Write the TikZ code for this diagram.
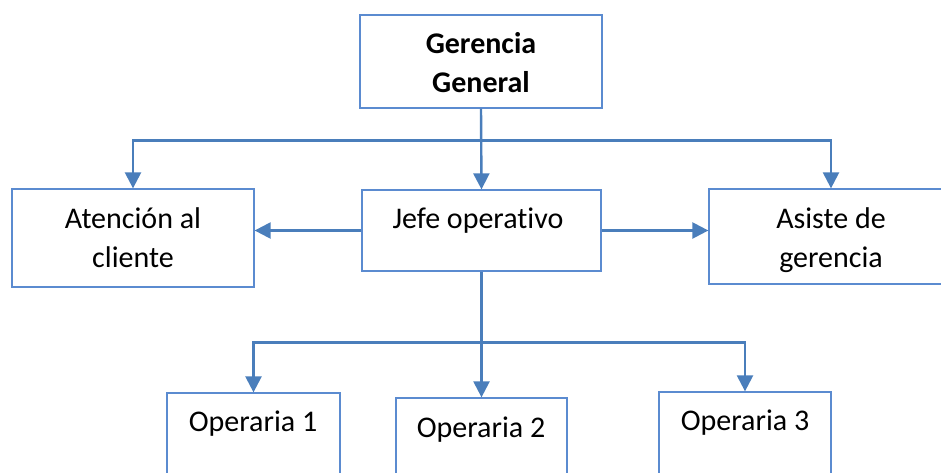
\documentclass[tikz,border=0pt]{standalone}
\usepackage{fontspec}
\setmainfont{Carlito}[Ligatures={NoCommon}]
\usetikzlibrary{arrows.meta}
\definecolor{boxblue}{HTML}{5B8BD0}
\definecolor{arrblue}{HTML}{4A7EBB}
\tikzset{
  box/.style={draw=boxblue, line width=1.3pt, fill=none, inner sep=0pt, rectangle},
  txt/.style={inner sep=0pt, anchor=base, align=center, font=\fontsize{30}{39}\selectfont},
  arr/.style={draw=arrblue, line width=2.4pt, -{Triangle[length=16pt,width=16pt]}}
}
\begin{document}
\begin{tikzpicture}[x=1pt,y=-1pt]
\useasboundingbox (0,0) rectangle (941,472);
\clip (0,0) rectangle (941,472);
% boxes
\node[box, minimum width=242pt, minimum height=93pt] (gg) at (481,61.5) {};
\node[box, minimum width=242pt, minimum height=98pt] (atc) at (133,238) {};
\node[box, minimum width=239pt, minimum height=81pt] (jefe) at (481.5,230.5) {};
\node[box, minimum width=244pt, minimum height=95pt] (asi) at (831,236.5) {};
\node[box, minimum width=173pt, minimum height=127pt] (op1) at (253.5,456.5) {};
\node[box, minimum width=171pt, minimum height=122pt] (op2) at (481.5,459) {};
\node[box, minimum width=172pt, minimum height=128pt] (op3) at (745,456) {};
% texts
\node[txt, font=\fontsize{30}{39}\selectfont\bfseries] (ggt) at (481,92) {Gerencia\\General};
\node[txt] (atct) at (133,267) {Atención al\\cliente};
\node[txt] (jefet) at (478,228) {Jefe operativo};
\node[txt] (asit) at (831,267) {Asiste de\\gerencia};
\node[txt] (op1t) at (253,431) {Operaria 1};
\node[txt] (op2t) at (481,437) {Operaria 2};
\node[txt] (op3t) at (745,430) {Operaria 3};
% connectors
\draw[arr] (gg.south) -- (jefe.north);
\draw[arr] (gg.south) ++(0,32) -| (atc.north);
\draw[arr] (gg.south) ++(0,32) -| (asi.north);
\draw[arr] (jefe.west) -- (jefe.west -| atc.east);
\draw[arr] (jefe.east) -- (jefe.east -| asi.west);
\draw[arr] (jefe.south) -- (op2.north);
\draw[arr] (jefe.south) ++(0,71) -| (op1.north);
\draw[arr] (jefe.south) ++(0,71) -| (op3.north);
\end{tikzpicture}
\end{document}
